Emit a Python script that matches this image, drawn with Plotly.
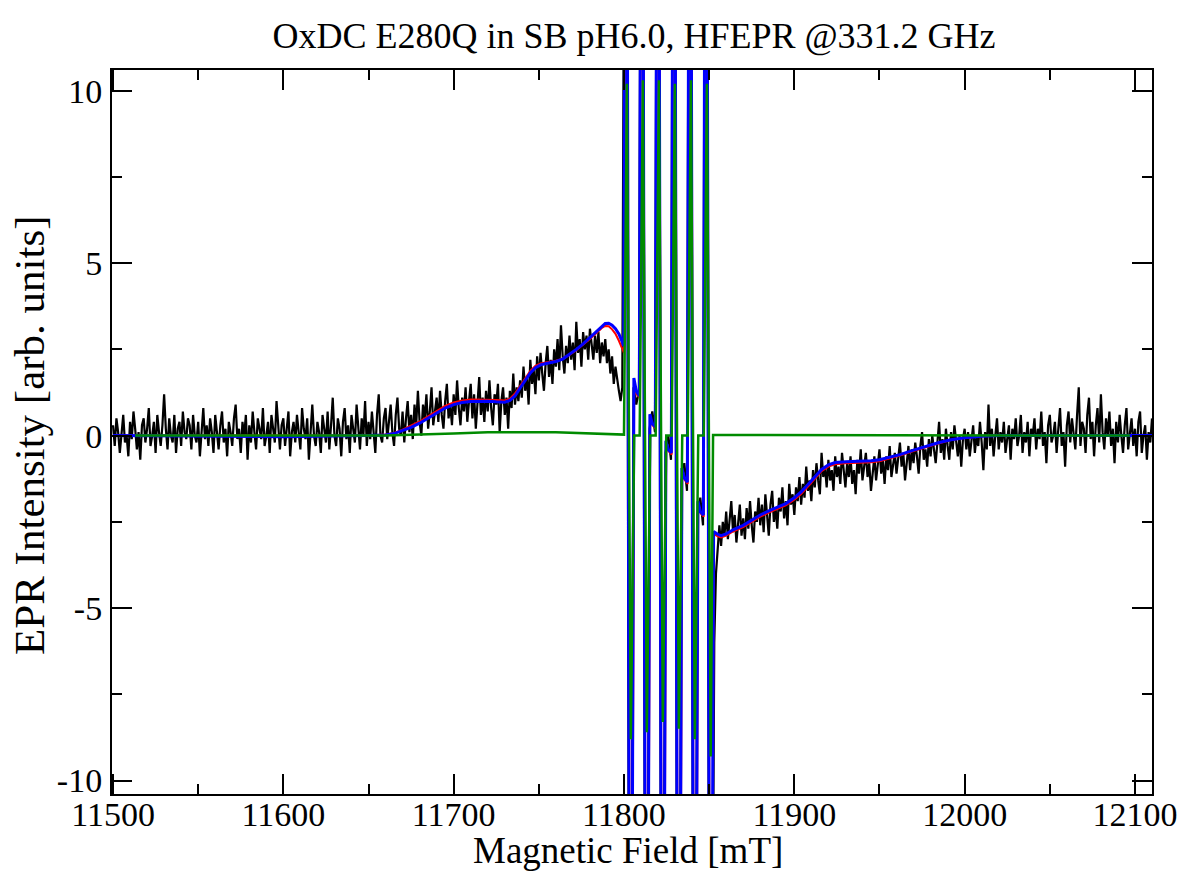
import numpy as np
import plotly.graph_objects as go

# ---------------- data ----------------
# Experimental spectrum (black), 1 mT grid, left of the Mn(II) sextet
black_left_x0, black_left_step = 11500, 1
black_left_y = [
    0.3, -0.3, 0.5, 0.1, -0.5, 0.2, 0.6, -0.2, 0.0, -0.6,
    0.4, -0.1, 0.7, 0.2, -0.4, 0.1, -0.7, 0.3, 0.5, -0.2,
    0.2, 0.8, -0.3, 0.0, 0.4, -0.5, 0.6, 0.1, -0.3, 0.3,
    1.2, 0.2, -0.4, 0.5, 0.0, -0.2, 0.6, -0.5, 0.2, 0.4,
    -0.3, 0.7, 0.1, -0.1, 0.5, 0.3, -0.4, 0.6, 0.0, -0.2,
    0.4, -0.6, 0.2, 0.8, -0.1, 0.3, -0.3, 0.5, 0.1, -0.5,
    0.6, 0.0, -0.4, 0.3, 0.7, -0.2, 0.2, -0.6, 0.4, 0.1,
    -0.3, 0.5, 0.9, -0.1, 0.2, -0.5, 0.4, 0.0, 0.6, -0.7,
    0.3, -0.2, 0.7, 0.1, -0.4, 0.5, 0.2, -0.1, 0.8, -0.3,
    0.0, 0.4, -0.5, 0.6, 0.2, -0.2, 1.0, 0.1, -0.4, 0.3,
    0.5, -0.3, 0.2, 0.7, -0.6, 0.1, 0.4, -0.2, 0.6, 0.0,
    -0.4, 0.8, 0.2, -0.1, 0.5, -0.7, 0.3, 0.9, 0.0, -0.3,
    0.4, 0.1, -0.5, 0.6, 0.2, -0.2, 0.7, -0.4, 0.3, 1.1,
    0.0, -0.3, 0.5, 0.2, -0.6, 0.4, 0.8, -0.1, 0.3, -0.5,
    0.6, 0.1, -0.2, 0.9, 0.3, -0.4, 0.5, 0.0, 1.0, -0.3,
    0.4, -0.1, 0.7, 0.2, -0.5, 0.6, 1.2, 0.0, -0.2, 0.5,
    0.8, -0.1, 0.4, 0.9, 0.1, -0.3, 0.6, 1.1, 0.2, 0.0,
    0.7, -0.2, 0.5, 1.0, 0.1, 0.6, -0.1, 0.9, 0.3, 1.3,
    0.4, 0.0, 0.9, 0.5, 1.2, 0.2, 0.7, 1.4, 0.3, 0.8,
    1.1, 0.4, 1.3, 0.6, 0.2, 1.0, 1.5, 0.5, 0.9, 0.3,
    1.2, 0.6, 1.6, 0.8, 0.3, 1.1, 0.7, 1.4, 0.4, 1.0,
    1.5, 0.5, 1.2, 0.2, 0.9, 1.7, 0.6, 1.1, 0.4, 1.3,
    0.7, 1.6, 0.8, 0.3, 1.2, 0.9, 1.5, 0.1, 1.0, 1.4,
    0.6, 1.1, 0.2, 1.3, 0.8, 1.8, 0.9, 1.4, 1.0, 1.6,
    1.1, 2.0, 1.3, 1.7, 0.9, 2.2, 1.5, 1.9, 1.2, 2.3,
    1.6, 2.4, 1.8, 1.3, 2.1, 2.6, 1.7, 2.2, 1.5, 2.5,
    2.0, 2.8, 1.9, 3.2, 2.3, 1.8, 2.6, 2.1, 2.9, 2.2,
    2.7, 1.9, 3.3, 2.4, 2.8, 2.0, 3.0, 2.5, 2.9, 2.2,
    3.1, 2.6, 2.2, 2.9, 2.4, 3.0, 2.1, 2.7, 2.3, 2.8,
    2.1, 2.5, 1.8, 2.3, 1.5, 2.0, 1.6, 1.3, 1.0, 1.4,
]
# Experimental spectrum through the off-scale Mn(II) lines
black_mid_x = [11801.2, 11803.4, 11805.6, 11807.2, 11808.8,
               11810.6, 11812.8, 11815.0, 11816.6, 11818.2,
               11820.0, 11822.2, 11824.4, 11826.0, 11827.6,
               11829.4, 11831.6, 11833.8, 11835.4, 11837.0,
               11838.8, 11841.0, 11843.2, 11844.8, 11846.4,
               11848.2, 11850.4]
black_mid_y = [30, -30, 1.4, 0.9, 1.3,
               30, -30, 0.2, 0.7, 0.1,
               30, -30, -0.5, 0.0, -0.7,
               30, -30, -1.3, -0.8, -1.6,
               30, -30, -2.3, -1.8, -2.6,
               30, -30]
# Experimental spectrum, 1 mT grid, right of the sextet
black_right_x0, black_right_step = 11853, 1
black_right_y = [
    -6.0, -4.0, -3.4, -2.6, -3.2, -2.5, -2.9,
    -2.2, -3.0, -2.4, -1.9, -2.8, -2.3, -3.1, -2.5, -2.0, -2.9,
    -2.4, -3.0, -2.1, -2.7, -1.9, -2.6, -3.1, -2.2, -2.5, -1.8,
    -2.6, -2.0, -2.8, -1.7, -2.3, -2.9, -2.0, -1.6, -2.5, -2.1,
    -2.7, -1.8, -2.2, -1.5, -2.4, -1.9, -2.6, -1.4, -2.0, -1.7,
    -2.3, -1.5, -1.9, -1.2, -2.0, -1.4, -1.8, -0.9, -1.6, -1.3,
    -1.9, -1.0, -1.5, -0.8, -1.3, -1.7, -0.5, -1.2, -0.9, -1.5,
    -0.7, -1.3, -1.0, -1.6, -0.6, -1.2, -0.9, -1.4, -0.5, -1.1,
    -1.5, -0.8, -1.2, -0.6, -1.4, -1.0, -1.7, -0.7, -1.1, -0.4,
    -1.3, -0.9, -0.5, -1.2, -0.8, -1.6, -1.0, -0.6, -1.3, -0.9,
    -0.4, -1.1, -0.7, -1.4, -0.6, -1.0, -0.3, -1.2, -0.8, -0.5,
    -1.1, -0.6, -0.2, -0.9, -0.5, -1.3, -0.7, -0.3, -1.0, -0.4,
    -0.8, -0.2, -0.6, -1.1, -0.3, 0.1, -0.7, -0.4, -0.9, -0.1,
    -0.6, 0.0, -0.4, -0.8, -0.2, 0.4, -0.5, -0.1, -0.7, 0.2,
    -0.3, -0.7, 0.1, -0.4, 0.3, -0.2, -0.6, 0.0, -0.9, -0.1,
    0.2, -0.4, 0.1, -0.6, -0.2, 0.3, -0.5, 0.0, -0.3, 0.4,
    -0.2, -1.0, 0.1, -0.4, 0.9, -0.3, 0.2, -0.6, 0.0, 0.5,
    -0.4, 0.1, -0.2, 0.4, -0.5, 0.0, 0.3, -0.7, 0.2, -0.1,
    0.5, -0.3, 0.0, 0.6, -0.5, 0.1, -0.2, 0.4, -0.6, 0.2,
    0.0, 0.5, -0.4, 0.2, -0.1, 0.7, -0.3, 0.1, -0.8, 0.3,
    0.6, -0.2, 0.0, 0.4, -0.5, 0.2, 0.8, -0.3, 0.1, -0.9,
    0.3, 0.7, -0.2, 0.5, 0.0, -0.4, 0.6, 1.4, -0.3, 0.4,
    0.2, -0.5, 0.6, 1.1, -0.1, 0.4, -0.6, 0.3, 0.8, -0.2,
    1.2, 0.1, -0.4, 0.5, 0.0, 0.7, -0.3, 0.2, -0.8, 0.4,
    -0.2, 0.6, 0.0, -0.5, 0.3, 0.8, -0.4, 0.1, 0.5, -0.3,
    0.2, -0.6, 0.4, 0.7, -0.5, 0.0, 0.3, -0.7, 0.1, -0.2, 0.5,
]

# Total simulation (blue)
blue_x = [11500, 11600, 11650, 11660, 11665, 11670, 11675, 11680, 11685, 11690,
          11695, 11700, 11705, 11710, 11715, 11720, 11725, 11730, 11733, 11736,
          11739, 11742, 11745, 11748, 11751, 11755, 11760, 11764, 11768, 11772,
          11776, 11780, 11784, 11787, 11789, 11791, 11793, 11795, 11797, 11799,
          11799.8, 11801.3, 11803.7, 11805.8, 11807.2, 11809.0,
          11810.6, 11813.1, 11815.2, 11816.6, 11818.4,
          11820.0, 11822.5, 11824.6, 11826.0, 11827.8,
          11829.4, 11831.9, 11834.0, 11835.4, 11837.2,
          11838.8, 11841.3, 11843.4, 11844.8, 11846.6,
          11848.2, 11850.7, 11852.6,
          11855, 11857, 11860, 11864, 11870, 11875, 11880, 11885, 11890, 11895,
          11900, 11904, 11908, 11912, 11916, 11920, 11924, 11930, 11938, 11945,
          11950, 11955, 11962, 11970, 11978, 11985, 11992, 12000, 12010, 12020,
          12110]
blue_y = [0.0, -0.03, 0.0, 0.02, 0.06, 0.14, 0.24, 0.36, 0.5, 0.66,
          0.8, 0.9, 0.96, 0.99, 1.0, 1.0, 0.98, 0.97, 1.02, 1.15,
          1.38, 1.6, 1.82, 1.97, 2.05, 2.1, 2.15, 2.22, 2.35, 2.5,
          2.66, 2.84, 3.03, 3.18, 3.25, 3.26, 3.2, 3.1, 2.95, 2.72,
          2.6, 30, -30, 1.67, 1.3, 1.15,
          30, -30, 0.62, 0.35, 0.25,
          30, -30, -0.15, -0.4, -0.5,
          30, -30, -0.94, -1.22, -1.35,
          30, -30, -1.9, -2.2, -2.3,
          30, -30, -2.78,
          -2.86, -2.9, -2.85, -2.73, -2.6, -2.45, -2.3, -2.18, -2.08, -1.97,
          -1.8, -1.63, -1.42, -1.2, -0.98, -0.85, -0.78, -0.76, -0.75, -0.73,
          -0.7, -0.64, -0.55, -0.42, -0.3, -0.2, -0.12, -0.06, -0.02, 0.0,
          0.0]

# Alternative simulation (red)
red_x = [11500, 11650, 11660, 11665, 11670, 11675, 11680, 11685, 11690,
         11695, 11700, 11705, 11710, 11715, 11720, 11725, 11730, 11733, 11736,
         11739, 11742, 11745, 11748, 11751, 11755, 11760, 11764, 11768, 11772,
         11776, 11780, 11784, 11787, 11789, 11791, 11793, 11795, 11797, 11799,
         11800.0, 11801.5, 11803.9, 11806.0, 11807.4, 11809.2,
         11810.8, 11813.3, 11815.4, 11816.8, 11818.6,
         11820.2, 11822.7, 11824.8, 11826.2, 11828.0,
         11829.6, 11832.1, 11834.2, 11835.6, 11837.4,
         11839.0, 11841.5, 11843.6, 11845.0, 11846.8,
         11848.4, 11850.9, 11852.7,
         11855, 11857, 11860, 11864, 11870, 11875, 11880, 11885, 11890, 11895,
         11900, 11904, 11908, 11912, 11916, 11920, 11924, 11930, 11938, 11945,
         11950, 11955, 11962, 11970, 11978, 11985, 11992, 12000, 12010, 12020,
         12110]
red_y = [0.0, 0.0, 0.03, 0.08, 0.17, 0.28, 0.41, 0.56, 0.72,
         0.86, 0.96, 1.02, 1.05, 1.05, 1.05, 1.03, 1.02, 1.07, 1.22,
         1.45, 1.67, 1.88, 2.02, 2.09, 2.13, 2.17, 2.23, 2.34, 2.48,
         2.63, 2.8, 2.98, 3.12, 3.18, 3.17, 3.08, 2.95, 2.75, 2.5,
         2.4, 30, -30, 1.55, 1.2, 1.1,
         30, -30, 0.55, 0.3, 0.2,
         30, -30, -0.2, -0.45, -0.55,
         30, -30, -1.0, -1.28, -1.4,
         30, -30, -1.95, -2.25, -2.35,
         30, -30, -2.85,
         -2.92, -2.95, -2.9, -2.78, -2.65, -2.5, -2.35, -2.23, -2.13, -2.02,
         -1.86, -1.69, -1.48, -1.26, -1.03, -0.9, -0.83, -0.8, -0.79, -0.77,
         -0.74, -0.68, -0.58, -0.45, -0.32, -0.22, -0.13, -0.07, -0.02, 0.0,
         0.0]

# Mn(II) component simulation (green)
green_x = [11513, 11660, 11700, 11720, 11760, 11780, 11795, 11800.0,
           11801.7, 11804.0, 11806.0, 11809.2,
           11811.1, 11813.4, 11815.4, 11818.6,
           11820.5, 11822.8, 11824.8, 11828.0,
           11829.9, 11832.2, 11834.2, 11837.4,
           11839.3, 11841.6, 11843.6, 11846.8,
           11848.7, 11850.9, 11852.3, 11900, 12097]
green_y = [0.0, 0.0, 0.06, 0.1, 0.1, 0.06, 0.02, 0.03,
           10.2, -8.8, 0.0, 0.0,
           10.3, -8.6, 0.0, 0.0,
           10.3, -8.3, 0.0, 0.0,
           10.2, -8.5, 0.0, 0.0,
           10.3, -8.8, 0.0, 0.0,
           10.2, -9.3, 0.02, 0.02, 0.0]

x_tick_vals = [11500, 11600, 11700, 11800, 11900, 12000, 12100]
x_tick_text = ["11500", "11600", "11700", "11800", "11900", "12000", "12100"]
x_minor_vals = [11550, 11650, 11750, 11850, 11950, 12050]
y_tick_vals = [-10, -5, 0, 5, 10]
y_tick_text = ["-10", "-5", "0", "5", "10"]
y_minor_vals = [-7.5, -2.5, 2.5, 7.5]

title_text = "OxDC E280Q in SB pH6.0, HFEPR @331.2 GHz"
x_title = "Magnetic Field [mT]"
y_title = "EPR Intensity [arb. units]"

# ---------------- figure ----------------
black_x = (list(black_left_x0 + black_left_step * np.arange(len(black_left_y)))
           + black_mid_x
           + list(black_right_x0 + black_right_step * np.arange(len(black_right_y))))
black_y = black_left_y + black_mid_y + black_right_y

FONT = "Liberation Serif"
W, H = 1183, 873
ML, MR, MT, MB = 112, 31, 70, 79
PW, PH = W - ML - MR, H - MT - MB

fig = go.Figure()
fig.add_trace(go.Scatter(x=black_x, y=black_y, mode="lines",
                         line=dict(color="black", width=2.2), name="exp"))
fig.add_trace(go.Scatter(x=red_x, y=red_y, mode="lines",
                         line=dict(color="#ff0000", width=2), name="sim2"))
fig.add_trace(go.Scatter(x=blue_x, y=blue_y, mode="lines",
                         line=dict(color="#0000ff", width=3), name="sim"))
fig.add_trace(go.Scatter(x=green_x, y=green_y, mode="lines",
                         line=dict(color="#008b00", width=2.5), name="Mn"))

axis_common = dict(
    showline=True, linecolor="black", linewidth=2, mirror="allticks",
    ticks="inside", tickcolor="black", tickwidth=2, ticklen=20,
    showgrid=False, zeroline=False, automargin=False,
    tickfont=dict(family=FONT, size=34, color="black"),
)

fig.update_layout(
    width=W, height=H,
    paper_bgcolor="white", plot_bgcolor="white",
    margin=dict(l=ML, r=MR, t=MT, b=MB),
    showlegend=False,
    title=dict(text=title_text, x=(634) / W, xanchor="center",
               y=1 - 35 / H, yanchor="middle",
               font=dict(family=FONT, size=36, color="black")),
    xaxis=dict(range=[11499.4, 12110], tickmode="array",
               tickvals=x_tick_vals, ticktext=x_tick_text,
               minor=dict(tickmode="array", tickvals=x_minor_vals, ticks="inside",
                          ticklen=10, tickwidth=2, tickcolor="black"),
               ticklabelstandoff=-11,
               **axis_common),
    yaxis=dict(range=[-10.39, 10.6], tickmode="array",
               tickvals=y_tick_vals, ticktext=y_tick_text,
               minor=dict(tickmode="array", tickvals=y_minor_vals, ticks="inside",
                          ticklen=10, tickwidth=2, tickcolor="black"),
               ticklabelstandoff=1,
               **axis_common),
    annotations=[
        dict(text=x_title, xref="paper", yref="paper",
             x=(628 - ML) / PW, y=-(851 - (H - MB)) / PH,
             xanchor="center", yanchor="middle", showarrow=False,
             font=dict(family=FONT, size=37, color="black")),
        dict(text=y_title, xref="paper", yref="paper", textangle=-90,
             x=-(ML - 29) / PW, y=(H - MB - 435) / PH,
             xanchor="center", yanchor="middle", showarrow=False,
             font=dict(family=FONT, size=43, color="black")),
    ],
)

fig.write_html("out.html")
